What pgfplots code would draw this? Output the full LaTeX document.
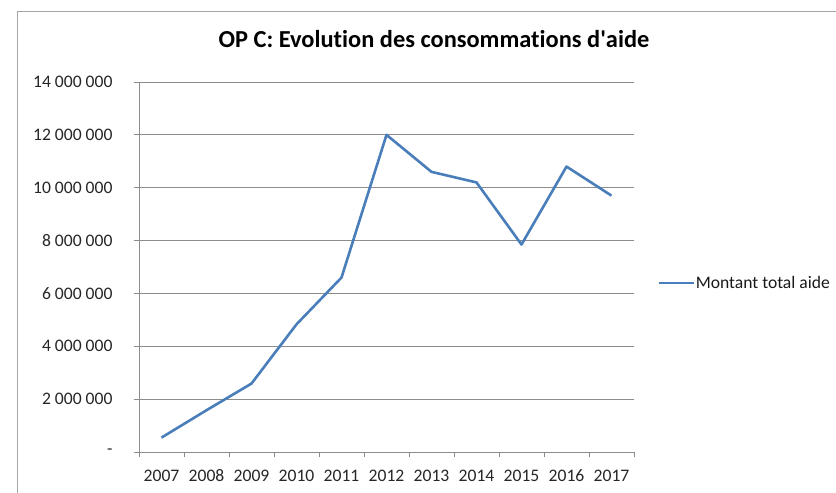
\documentclass[border=0pt]{standalone}
\usepackage{pgfplots}
\pgfplotsset{compat=1.18}
\usepackage{fontspec}
\setmainfont{Carlito}[Ligatures=NoCommon]
\definecolor{serie}{HTML}{4A7EBB}
\definecolor{gridc}{HTML}{8C8C8C}
\definecolor{framec}{HTML}{A6A6A6}
\begin{document}
\begin{tikzpicture}
\useasboundingbox (0pt,0pt) rectangle (836pt,493pt);
\draw[framec, line width=1pt] (17pt,0pt) -- (17pt,481.5pt) -- (836pt,481.5pt);
\begin{axis}[
  at={(139pt,41pt)}, anchor=south west,
  width=495pt, height=370pt, scale only axis,
  xmin=-0.5, xmax=10.5, ymin=0, ymax=14000000,
  scaled y ticks=false,
  axis x line*=bottom, axis y line*=left,
  axis line style={gridc, line width=0.9pt, -},
  xtick={0,...,10},
  xticklabels={2007,2008,2009,2010,2011,2012,2013,2014,2015,2016,2017},
  minor xtick={-0.5,0.5,...,10.5},
  major x tick style={draw=none},
  minor x tick style={gridc, line width=0.9pt},
  ytick={0,2000000,...,14000000},
  yticklabels={-\hspace{6pt},2 000 000,4 000 000,6 000 000,8 000 000,10 000 000,12 000 000,14 000 000},
  major y tick style={gridc, line width=0.9pt},
  tick align=outside,
  major tick length=5pt, minor tick length=5pt,
  ymajorgrids,
  grid style={gridc, line width=0.9pt},
  tick label style={font=\fontsize{17.6}{20}\selectfont, text=black!85},
  yticklabel style={xshift=-18pt},
  xticklabel style={yshift=-9pt, text height=12pt, text depth=3pt},
  /pgf/number format/assume math mode=true,
  title={OP C: Evolution des consommations d\textquotesingle aide},
  title style={at={(0.596,1.1)}, anchor=center, font=\bfseries\fontsize{24.4}{28}\selectfont},
  legend style={draw=none, fill=none, at={(1.0465,0.457)}, anchor=west, inner sep=0pt,
    font=\fontsize{17.6}{20}\selectfont, nodes={inner sep=1pt, text=black!90}},
  legend image code/.code={\draw[#1] (0pt,0pt) -- (35pt,0pt);},
  clip=false,
]
\addplot[serie, line width=2.6pt, line join=round] coordinates {
  (0,545000) (1,1580000) (2,2590000) (3,4830000) (4,6600000)
  (5,12000000) (6,10600000) (7,10200000) (8,7850000) (9,10800000) (10,9700000)
};
\addlegendentry{Montant total aide}
\end{axis}
\end{tikzpicture}
\end{document}
